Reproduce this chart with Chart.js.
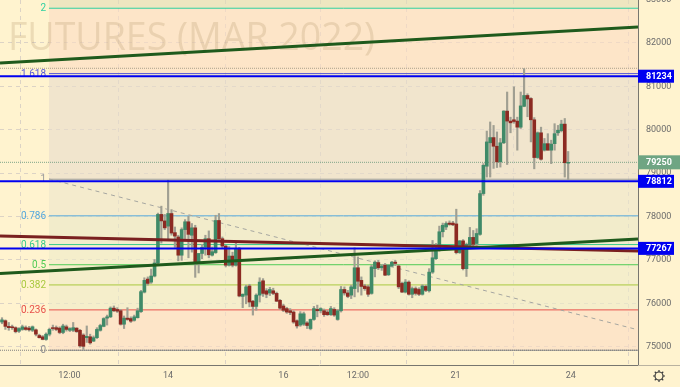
<!DOCTYPE html>
<html lang="en">
<head>
    <meta charset="UTF-8">
    <title>Futures (Mar 2022)</title>
    <script src="https://cdn.jsdelivr.net/npm/chart.js"></script>
    <style>
        html, body { margin: 0; padding: 0; background: #fff3cf; overflow: hidden; }
        canvas { display: block; }
    </style>
</head>
<body>
    <canvas id="futuresChart" width="680" height="387"></canvas>
    <script>
        // hourly candles
        const opens = [
            75570,75600,75470,75460,75440,75360,75400,75440,75430,75380,
            75390,75260,75230,75170,75290,75440,75440,75430,75330,75460,
            75380,75380,75430,75380,75270,75210,75230,75130,75210,75380,
            75470,75660,75690,75890,75860,75830,75520,75660,75650,75610,
            75670,75810,76260,76560,76490,76630,76930,78050,77900,77780,
            78070,77630,77530,77110,77700,77880,77570,77740,76920,77150,
            77290,77490,77110,77170,77910,77490,77320,76880,77090,76880,
            77260,76160,76190,76400,76050,75930,76190,76520,76290,76240,
            76290,76230,76070,75940,75880,75830,75800,75600,75500,75520,
            75550,75420,75630,75860,75830,75830,75800,75740,75860,75630,
            75830,76320,76240,76190,76340,76820,76530,76400,76380,76230,
            76800,76940,76820,76880,76660,76860,76950,76860,76460,76260,
            76490,76210,76340,76320,76210,76390,76290,76720,77030,77220,
            77650,77760,77850,77850,77830,77170,77440,76800,77340,77520,
            77380,77590,78530,79160,79700,79820,79620,79260,79700,80430,
            80200,80230,80200,80060,80540,80790,80720,80230,79360,79930,
            79530,79680,79530,79680,79930,79980,80130,79230
        ];
        const highs = [
            75670,75620,75560,75500,75460,75440,75500,75480,75470,75480,
            75410,75290,75260,75320,75430,75500,75480,75460,75520,75500,
            75440,75560,75440,75400,75300,75480,75290,75250,75440,75520,
            75670,75730,75920,75940,75900,75860,75710,75900,75690,75730,
            75890,76300,76590,76610,76790,77010,78080,78240,78050,78840,
            78160,77760,77570,77740,77930,78010,77840,77800,77150,77360,
            77570,77670,77300,78030,78070,77530,77340,77310,77180,77390,
            77290,76220,76420,76440,76070,76220,76590,76570,76340,76370,
            76350,76260,76090,75980,75910,75880,75830,75620,75810,75800,
            75580,75640,75930,75960,75900,75870,75840,75930,75900,75860,
            76390,76380,76300,76420,77280,77070,76610,76440,76420,76880,
            76980,76990,76890,76920,76890,76970,76990,76880,76490,76550,
            76520,76380,76380,76360,76430,76420,76800,77450,77380,77780,
            77850,77880,77900,77890,78170,77450,77470,77390,77750,77680,
            77720,78600,79220,79970,80180,80100,79950,79800,80440,80870,
            80290,80990,80290,80870,81410,80830,80740,80280,79950,80060,
            79800,79910,79760,80140,80100,80220,80260,79500
        ];
        const lows = [
            75530,75400,75380,75400,75320,75330,75380,75380,75360,75350,
            75250,75200,75160,75150,75250,75380,75370,75300,75300,75360,
            75350,75350,75330,74990,74940,75100,75060,75120,75190,75360,
            75460,75500,75670,75810,75790,75500,75420,75610,75560,75590,
            75660,75790,76240,76420,76460,76610,76910,77390,77700,77450,
            77570,77290,76980,76990,77490,77050,77180,76600,76700,77030,
            77110,77050,77090,77150,77470,77260,76840,76860,76840,76860,
            76150,75900,75990,75920,75730,75840,76030,76160,76130,76180,
            76200,76040,75860,75810,75770,75740,75540,75430,75470,75490,
            75420,75390,75610,75690,75780,75700,75720,75720,75700,75610,
            75800,76190,76130,76110,76150,76260,76190,76300,76160,76210,
            76610,76780,76760,76640,76640,76840,76870,76340,76250,76240,
            76190,76130,76190,76180,76190,76270,76260,76690,77010,77200,
            77530,77700,77800,77790,77140,77150,76770,76620,77320,77320,
            77340,77570,78490,78910,78910,79110,79130,79140,79680,79200,
            79930,80150,79530,80030,80530,80300,79720,79100,79340,79300,
            79510,79530,79220,79530,79870,79950,78910,78850
        ];
        const closes = [
            75620,75470,75440,75440,75350,75420,75460,75400,75390,75460,
            75290,75210,75170,75290,75400,75420,75400,75330,75480,75400,
            75420,75440,75350,75020,75010,75240,75090,75210,75400,75490,
            75650,75690,75890,75830,75820,75520,75660,75630,75590,75690,
            75830,76270,76530,76460,76630,76930,78050,77900,77740,78070,
            77620,77550,77110,77700,77880,77590,77740,76920,77150,77290,
            77490,77120,77190,77910,77490,77320,76880,77090,76880,77260,
            76170,76210,76380,76030,75930,76190,76490,76230,76210,76320,
            76230,76050,75890,75840,75800,75790,75570,75480,75760,75760,
            75490,75630,75880,75830,75880,75740,75740,75880,75730,75830,
            76320,76240,76160,76380,76820,76510,76390,76340,76210,76840,
            76950,76820,76860,76650,76880,76950,76920,76380,76260,76490,
            76210,76340,76230,76210,76400,76300,76720,77050,77240,77650,
            77800,77840,77820,77810,77170,77440,76800,77360,77520,77360,
            77610,78530,79180,79720,79820,79620,79260,79700,80430,80200,
            80160,80190,80060,80550,80790,80710,80230,79360,79930,79320,
            79680,79530,79670,79910,79990,80130,79240,79250
        ];

        const priceTicks = [83000,82000,81000,80000,79000,78000,77000,76000,75000];
        const timeTicks = [19.9,49,83,105,133.8,167.8];
        const timeLabels = ['12:00','14','16','12:00','21','24'];

        const fibLabels = ['0','0.236','0.382','0.5','0.618','0.786','1','1.618','2'];
        const fibLevels = [74920,75850,76425,76890,77355,78017,78860,81295,82800];
        const fibColors = ['#8f8f8f','#e8504a','#a9c93f','#4fcb55','#38cb8c','#55a8dc','#9a9a9a','#5a5ad8','#2fd0a0'];
        const zoneColors = [
            'rgba(252,220,195,.6)','rgba(238,235,200,.6)','rgba(238,235,200,.6)','rgba(238,235,200,.6)',
            'rgba(234,232,200,.6)','rgba(236,230,204,.6)','rgba(232,220,204,.6)','rgba(252,220,195,.6)','rgba(227,221,182,.6)'
        ];

        const blueLevels = [81234,78812,77267];
        const lastPrice = 79250;
        const highLevel = 81417;

        const X_MIN = -0.59, X_MAX = 187.6, FIB_START = 13.86;
        const Y_MIN = 74580, Y_MAX = 82990;

        const GREEN = '#3f8a68', RED = '#8c2a22', WICK = '#a09f92';
        const candleIdx = opens.map((_, i) => i);

        function hline(label, y, color, width, order, extra, from) {
            return Object.assign({
                type: 'line', label: label,
                data: [{x: from === undefined ? X_MIN : from, y: y}, {x: X_MAX, y: y}],
                borderColor: color, borderWidth: width, pointRadius: 0, order: order, fill: false
            }, extra || {});
        }
        function sloped(label, x0, y0, x1, y1, color, width, order, extra) {
            return Object.assign({
                type: 'line', label: label,
                data: [{x: x0, y: y0}, {x: x1, y: y1}],
                borderColor: color, borderWidth: width, pointRadius: 0, order: order, fill: false
            }, extra || {});
        }

        const datasets = [];

        // fib zones, each one filled down to the level below it
        fibLevels.forEach((lvl, i) => {
            const top = i === fibLevels.length - 1 ? Y_MAX : fibLevels[i + 1];
            datasets.push(hline('zone' + i, top, 'transparent', 0, 50, {
                fill: {target: {value: lvl}}, backgroundColor: zoneColors[i]
            }, FIB_START));
        });
        fibLevels.forEach((lvl, i) => {
            datasets.push(hline('fib' + i, lvl, fibColors[i], 1, 40, null, FIB_START));
        });
        datasets.push(hline('high', highLevel, '#a8a08c', 1, 39, {borderDash: [1, 1]}));
        datasets.push(hline('low', fibLevels[0], '#7d7d7d', 1, 39, {borderDash: [1, 1]}));
        datasets.push(hline('last', lastPrice, '#7fa588', 1, 39, {borderDash: [1, 1]}));
        datasets.push(sloped('fib trend', FIB_START, 78866, 186.7, 75409, '#a5a5a0', 1, 38, {borderDash: [4, 4]}));

        datasets.push({
            type: 'bar', label: 'wicks', grouped: false, order: 30, barThickness: 1.5,
            data: candleIdx.map(i => ({x: i, y: [lows[i], highs[i]]})),
            backgroundColor: WICK
        });
        datasets.push({
            type: 'bar', label: 'bodies', grouped: false, order: 20, barThickness: 3,
            data: candleIdx.map(i => ({x: i, y: [opens[i], closes[i]]})),
            backgroundColor: candleIdx.map(i => closes[i] >= opens[i] ? GREEN : RED)
        });

        datasets.push(sloped('trend top', X_MIN, 81538, X_MAX, 82368, '#1f5a1c', 3, 10));
        datasets.push(sloped('trend up', X_MIN, 76688, X_MAX, 77483, '#1f5a1c', 3, 9));
        datasets.push(sloped('trend down', X_MIN, 77552, X_MAX, 77207, '#7a2020', 3, 11));
        blueLevels.forEach((lvl, i) => {
            datasets.push(hline('blue' + i, lvl, '#0000f0', 2, 8));
        });

        const overlay = {
            id: 'overlay',
            beforeDraw() { this.under = false; },
            beforeDatasetDraw(chart, args) {
                // watermark and fib labels sit on top of the zones but under everything else
                if (this.under || chart.data.datasets[args.index].order >= 50) return;
                this.under = true;
                const ctx = chart.ctx, y = chart.scales.y;
                ctx.save();
                ctx.fillStyle = 'rgba(170,135,90,.22)';
                ctx.font = '37.5px "Open Sans"';
                ctx.textBaseline = 'alphabetic';
                ctx.textAlign = 'left';
                ctx.fillText('FUTURES (MAR 2022)', 8, 50);
                ctx.font = '10px Roboto';
                ctx.textAlign = 'right';
                ctx.textBaseline = 'middle';
                fibLabels.forEach((t, i) => {
                    ctx.fillStyle = fibColors[i];
                    ctx.fillText(t, 46, y.getPixelForValue(fibLevels[i]) + 0.5);
                });
                ctx.restore();
            },
            afterDraw(chart) {
                const ctx = chart.ctx, y = chart.scales.y, area = chart.chartArea;
                ctx.save();
                ctx.textAlign = 'left';
                ctx.textBaseline = 'middle';
                ctx.font = 'bold 9px Roboto';
                // last price tag
                let py = y.getPixelForValue(lastPrice);
                ctx.fillStyle = '#6fa583';
                ctx.fillRect(area.right, py - 7, 42, 14);
                ctx.fillStyle = '#ffffff';
                ctx.fillText(String(lastPrice), 646, py + 0.5);
                // blue level tags
                blueLevels.forEach(lvl => {
                    py = y.getPixelForValue(lvl);
                    ctx.fillStyle = '#0000f0';
                    ctx.fillRect(area.right, py - 6.5, 36, 13);
                    ctx.fillStyle = '#ffffff';
                    ctx.fillText(String(lvl), 646, py + 0.5);
                });
                // axis line under the price scale
                ctx.strokeStyle = '#b9b2a0';
                ctx.beginPath();
                ctx.moveTo(area.right, area.bottom + 0.5);
                ctx.lineTo(680, area.bottom + 0.5);
                ctx.stroke();
                // settings gear
                const gx = 659, gy = 376;
                ctx.strokeStyle = '#3a3a3a';
                ctx.lineWidth = 1.2;
                ctx.beginPath();
                ctx.arc(gx, gy, 4, 0, Math.PI * 2);
                ctx.stroke();
                for (let a = 0; a < 8; a++) {
                    const t = a * Math.PI / 4;
                    ctx.beginPath();
                    ctx.moveTo(gx + Math.cos(t) * 4, gy + Math.sin(t) * 4);
                    ctx.lineTo(gx + Math.cos(t) * 6, gy + Math.sin(t) * 6);
                    ctx.stroke();
                }
                ctx.restore();
            }
        };

        // the tick labels at the edges must not push the plot area in
        function noPadding(s) {
            s.paddingTop = s.paddingBottom = s.paddingLeft = s.paddingRight = 0;
        }

        new Chart(document.getElementById('futuresChart').getContext('2d'), {
            data: {datasets: datasets},
            plugins: [overlay],
            options: {
                responsive: false,
                animation: false,
                layout: {padding: 0},
                plugins: {legend: {display: false}, tooltip: {enabled: false}},
                scales: {
                    x: {
                        type: 'linear', min: X_MIN, max: X_MAX, offset: false,
                        afterBuildTicks: s => { s.ticks = timeTicks.map(v => ({value: v})); },
                        afterFit: s => { s.height = 22; noPadding(s); },
                        border: {color: '#77766f', dash: [4, 4]},
                        grid: {color: 'rgba(140,140,175,.3)', drawTicks: false},
                        ticks: {
                            autoSkip: false, maxRotation: 0, padding: 5,
                            color: '#6b6b6b', font: {family: 'Roboto', size: 9},
                            callback: v => timeLabels[timeTicks.indexOf(v)]
                        }
                    },
                    y: {
                        type: 'linear', position: 'right', min: Y_MIN, max: Y_MAX,
                        afterBuildTicks: s => { s.ticks = priceTicks.map(v => ({value: v})); },
                        afterFit: s => { s.width = 42; noPadding(s); },
                        border: {color: '#77766f', dash: [4, 4]},
                        grid: {color: 'rgba(140,140,175,.3)', drawTicks: false},
                        ticks: {
                            autoSkip: false, padding: 8, align: 'center',
                            color: '#6b6b6b', font: {family: 'Roboto', size: 9},
                            callback: v => String(v)
                        }
                    }
                }
            }
        });
    </script>
</body>
</html>
